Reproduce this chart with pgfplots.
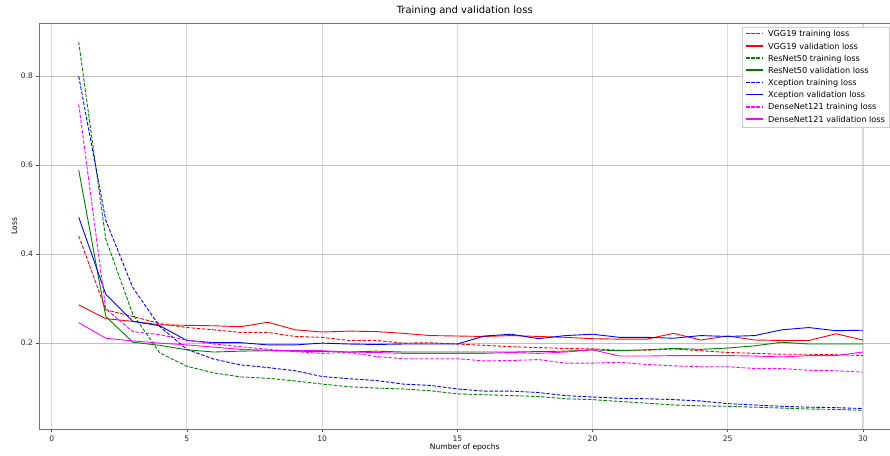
\documentclass[border=0pt]{standalone}
\usepackage{pgfplots}
\pgfplotsset{compat=1.18}
\usepackage{fontspec}
\setmainfont{DejaVu Sans}
\definecolor{mplgreen}{rgb}{0,0.5,0}
\definecolor{mplred}{rgb}{1,0,0}
\definecolor{mplblue}{rgb}{0,0,1}
\definecolor{mplmag}{rgb}{1,0,1}
\newcommand{\solidkey}[1]{\textcolor{#1}{\rule[2.4bp]{17bp}{1.6bp}}\hspace{5bp}}
\newcommand{\dashkey}[1]{\textcolor{#1}{\rule[2.4bp]{3.6bp}{1.6bp}\hspace{1.6bp}\rule[2.4bp]{3.6bp}{1.6bp}\hspace{1.6bp}\rule[2.4bp]{3.6bp}{1.6bp}\hspace{1.6bp}\rule[2.4bp]{1.4bp}{1.6bp}}\hspace{5bp}}
\begin{document}
\begin{tikzpicture}
\begin{axis}[
  name=ax,
  scale only axis,
  width=850.5bp, height=405.3bp,
  xmin=-0.45, xmax=31.0,
  ymin=0.007, ymax=0.918,
  xtick={0,5,10,15,20,25,30},
  ytick={0.2,0.4,0.6,0.8},
  yticklabel style={/pgf/number format/.cd,fixed,fixed zerofill,precision=1},
  /pgf/number format/assume math mode=true,
  tick label style={font=\fontsize{7.6}{9}\selectfont, text=black!85},
  label style={font=\fontsize{7.6}{9}\selectfont},
  title style={font=\fontsize{10}{12}\selectfont, yshift=-1bp},
  title={Training and validation loss},
  xlabel={Number of epochs},
  ylabel={Loss},
  xlabel style={yshift=4bp},
  ylabel style={yshift=-3bp},
  tick align=outside,
  tick pos=left,
  major tick length=3bp,
  every tick/.style={black!70, line width=0.6bp},
  axis line style={black!55, line width=0.9bp},
  grid=major,
  x grid style={black!15, line width=1.1bp},
  y grid style={black!25, line width=0.7bp},
  legend style={at={(rel axis cs:0.999,0.992)}, anchor=north east,
    font=\fontsize{8.2}{9.6}\selectfont, draw=black!20, fill=white,
    row sep=0.5bp, inner xsep=3bp, inner ysep=1.5bp,
    nodes={inner xsep=1bp}},
  legend image code/.code={},
  legend cell align=left,
  every axis plot/.append style={line width=0.9bp, mark=none},
]
\addplot[mplred, dash pattern=on 3.6bp off 1.6bp] coordinates {
(1,0.441)(2,0.275)(3,0.260)(4,0.244)(5,0.235)(6,0.230)(7,0.224)(8,0.224)(9,0.215)(10,0.213)
(11,0.206)(12,0.206)(13,0.200)(14,0.201)(15,0.198)(16,0.195)(17,0.192)(18,0.190)(19,0.188)(20,0.187)
(21,0.184)(22,0.184)(23,0.187)(24,0.183)(25,0.179)(26,0.177)(27,0.175)(28,0.175)(29,0.174)(30,0.172)};
\addlegendentry{\dashkey{mplred}VGG19 training loss}
\addplot[mplred] coordinates {
(1,0.286)(2,0.255)(3,0.249)(4,0.241)(5,0.240)(6,0.239)(7,0.237)(8,0.247)(9,0.230)(10,0.225)
(11,0.227)(12,0.226)(13,0.222)(14,0.217)(15,0.216)(16,0.215)(17,0.217)(18,0.215)(19,0.213)(20,0.210)
(21,0.209)(22,0.209)(23,0.222)(24,0.207)(25,0.216)(26,0.207)(27,0.206)(28,0.206)(29,0.221)(30,0.207)};
\addlegendentry{\solidkey{mplred}VGG19 validation loss}
\addplot[mplgreen, dash pattern=on 3.6bp off 1.6bp] coordinates {
(1,0.877)(2,0.434)(3,0.265)(4,0.178)(5,0.148)(6,0.133)(7,0.124)(8,0.121)(9,0.115)(10,0.108)
(11,0.102)(12,0.099)(13,0.097)(14,0.093)(15,0.086)(16,0.084)(17,0.082)(18,0.080)(19,0.075)(20,0.073)
(21,0.069)(22,0.065)(23,0.061)(24,0.059)(25,0.058)(26,0.056)(27,0.054)(28,0.052)(29,0.051)(30,0.049)};
\addlegendentry{\dashkey{mplgreen}ResNet50 training loss}
\addplot[mplgreen] coordinates {
(1,0.589)(2,0.260)(3,0.202)(4,0.195)(5,0.185)(6,0.180)(7,0.182)(8,0.183)(9,0.182)(10,0.181)
(11,0.180)(12,0.182)(13,0.180)(14,0.180)(15,0.180)(16,0.180)(17,0.180)(18,0.181)(19,0.182)(20,0.185)
(21,0.183)(22,0.185)(23,0.188)(24,0.186)(25,0.189)(26,0.194)(27,0.202)(28,0.198)(29,0.198)(30,0.198)};
\addlegendentry{\solidkey{mplgreen}ResNet50 validation loss}
\addplot[mplblue, dash pattern=on 3.6bp off 1.6bp] coordinates {
(1,0.800)(2,0.476)(3,0.325)(4,0.237)(5,0.186)(6,0.164)(7,0.151)(8,0.145)(9,0.138)(10,0.125)
(11,0.120)(12,0.116)(13,0.108)(14,0.105)(15,0.097)(16,0.092)(17,0.092)(18,0.089)(19,0.082)(20,0.079)
(21,0.076)(22,0.075)(23,0.073)(24,0.070)(25,0.064)(26,0.061)(27,0.058)(28,0.056)(29,0.055)(30,0.053)};
\addlegendentry{\dashkey{mplblue}Xception training loss}
\addplot[mplblue] coordinates {
(1,0.483)(2,0.310)(3,0.249)(4,0.239)(5,0.206)(6,0.201)(7,0.201)(8,0.196)(9,0.196)(10,0.200)
(11,0.198)(12,0.197)(13,0.198)(14,0.198)(15,0.198)(16,0.216)(17,0.220)(18,0.210)(19,0.217)(20,0.220)
(21,0.213)(22,0.213)(23,0.211)(24,0.217)(25,0.215)(26,0.217)(27,0.230)(28,0.235)(29,0.228)(30,0.229)};
\addlegendentry{\solidkey{mplblue}Xception validation loss}
\addplot[mplmag, dash pattern=on 3.6bp off 1.6bp] coordinates {
(1,0.737)(2,0.277)(3,0.226)(4,0.219)(5,0.207)(6,0.198)(7,0.192)(8,0.186)(9,0.181)(10,0.177)
(11,0.179)(12,0.170)(13,0.165)(14,0.165)(15,0.165)(16,0.160)(17,0.161)(18,0.163)(19,0.155)(20,0.155)
(21,0.157)(22,0.152)(23,0.149)(24,0.147)(25,0.147)(26,0.143)(27,0.143)(28,0.139)(29,0.138)(30,0.135)};
\addlegendentry{\dashkey{mplmag}DenseNet121 training loss}
\addplot[mplmag] coordinates {
(1,0.246)(2,0.211)(3,0.205)(4,0.200)(5,0.196)(6,0.191)(7,0.186)(8,0.184)(9,0.183)(10,0.183)
(11,0.180)(12,0.179)(13,0.177)(14,0.177)(15,0.177)(16,0.177)(17,0.179)(18,0.177)(19,0.180)(20,0.185)
(21,0.171)(22,0.171)(23,0.172)(24,0.172)(25,0.172)(26,0.171)(27,0.169)(28,0.172)(29,0.172)(30,0.180)};
\addlegendentry{\solidkey{mplmag}DenseNet121 validation loss}
\end{axis}
\pgfresetboundingbox
\path ([xshift=-39.5bp,yshift=-27bp]ax.south west) rectangle ([yshift=23.7bp]ax.north east);
\end{tikzpicture}
\end{document}
